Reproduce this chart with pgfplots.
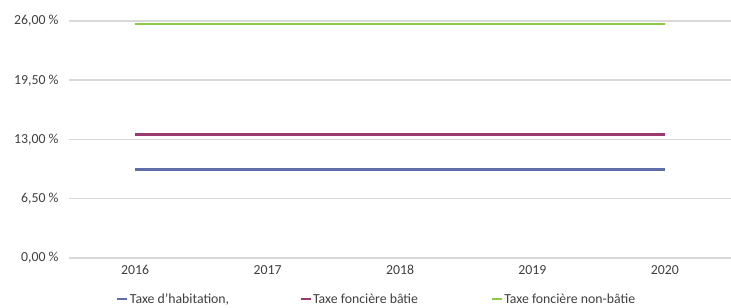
\documentclass[border=0pt]{standalone}
\usepackage{pgfplots}
\pgfplotsset{compat=1.18}
\usepackage{fontspec}
\setmainfont{Carlito}
\definecolor{cblue}{HTML}{5F6EA9}
\definecolor{cpurple}{HTML}{9B3A6F}
\definecolor{cgreen}{HTML}{8CCB45}
\definecolor{cgrid}{HTML}{D9D9D9}
\definecolor{ctext}{HTML}{404040}
\begin{document}
\begin{tikzpicture}
\useasboundingbox (0,0) rectangle (731bp,308bp);
\begin{axis}[
  at={(69bp,50bp)}, anchor=south west,
  scale only axis, width=662bp, height=237bp,
  xmin=-0.5, xmax=4.5, ymin=0, ymax=26,
  xtick={0,1,2,3,4}, xticklabels={2016,2017,2018,2019,2020},
  ytick={0,6.5,13,19.5,26},
  yticklabels={{0,00 \%},{6,50 \%},{13,00 \%},{19,50 \%},{26,00 \%}},
  ymajorgrids, grid style={cgrid, line width=1.5bp},
  axis line style={draw=none}, tick style={draw=none},
  ticklabel style={font=\fontsize{13.8bp}{15bp}\selectfont, text=ctext},
  yticklabel style={xshift=-7bp},
  xticklabel style={yshift=-4bp},
  clip=false,
  legend columns=3,
  legend style={at={(axis description cs:0,0)}, anchor=west, xshift=47bp, yshift=-41bp,
    draw=none, inner sep=0pt, font=\fontsize{13.8bp}{15bp}\selectfont, text=ctext,
    nodes={inner xsep=1.5bp, inner ysep=1bp},
    /tikz/every even column/.append style={column sep=0pt}},
  legend image code/.code={\draw[#1, line width=2.2bp] (0bp,0bp) -- (10bp,0bp);},
  legend cell align=left,
]
\addplot[cblue, line width=2.8bp] coordinates {(0,9.69) (1,9.69) (2,9.69) (3,9.69) (4,9.69)};
\addlegendentry{\makebox[168bp][l]{Taxe d'habitation,}}
\addplot[cpurple, line width=2.8bp] coordinates {(0,13.53) (1,13.53) (2,13.53) (3,13.53) (4,13.53)};
\addlegendentry{\makebox[176bp][l]{Taxe foncière bâtie}}
\addplot[cgreen, line width=2.8bp] coordinates {(0,25.67) (1,25.67) (2,25.67) (3,25.67) (4,25.67)};
\addlegendentry{Taxe foncière non-bâtie}
\end{axis}
\end{tikzpicture}
\end{document}
